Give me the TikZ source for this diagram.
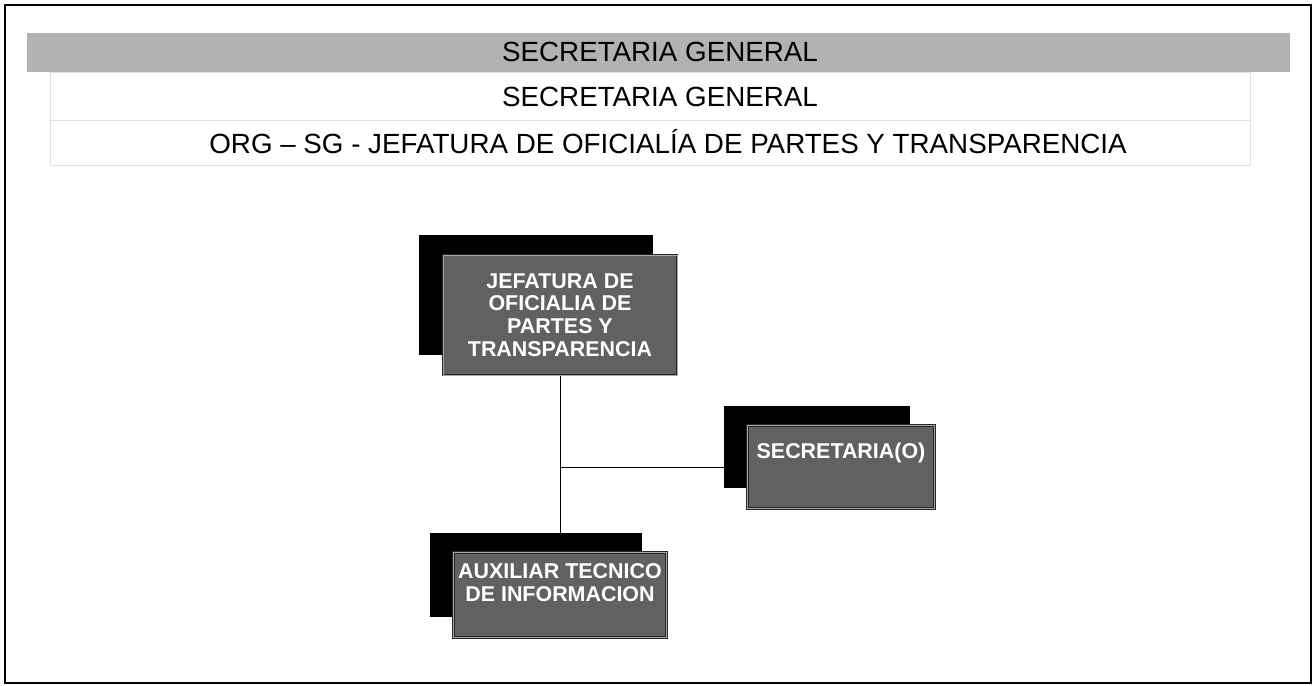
\documentclass[tikz,border=0pt]{standalone}
\usepackage{fontspec}
\setmainfont{Liberation Sans}
\usetikzlibrary{shadows,backgrounds}

\tikzset{
	puesto/.style={draw=black!85, double=black!35, double distance=0.5pt, fill=black!62, text=white,
		font=\fontsize{12.2}{13}\selectfont\bfseries, align=center, inner sep=2pt,
		general shadow={fill=black, shadow xshift=-0.48cm, shadow yshift=0.4cm}},
	encabezado/.style={font=\fontsize{15.8}{18}\selectfont}
}

\begin{document}
\begin{tikzpicture}[x=0.02cm, y=-0.02cm]
			%%%%% START %%%%%
			\useasboundingbox (0,0) rectangle (1316,686);
			\draw[line width=0.9pt] (5,5) rectangle (1311,683);
			
			\fill[black!30] (27,33) rectangle (1290,72);
			\draw[black!12] (50,72) rectangle (1250,165);
			\draw[black!12] (50,120) -- (1250,120);
			
			\node[encabezado] (area) at (660,52) {SECRETARIA GENERAL};
			\node[encabezado] (depto) at (660,97) {SECRETARIA GENERAL};
			\node[encabezado] (org) at (668,142) {ORG – SG - JEFATURA DE OFICIALÍA DE PARTES Y TRANSPARENCIA};
			
			\node[puesto, minimum width=4.68cm, minimum height=2.4cm] (jefe) at (560,315) {JEFATURA DE\\OFICIALIA DE\\PARTES Y\\TRANSPARENCIA};
			\node[puesto, minimum width=3.74cm, minimum height=1.66cm, text height=9pt, text depth=19pt] (secre) at (841,467) {SECRETARIA(O)};
			\node[puesto, minimum width=4.26cm, minimum height=1.7cm, text depth=14pt] (aux) at (560,595) {AUXILIAR TECNICO\\DE INFORMACION};
			
			\coordinate (rama) at (jefe.south |- secre.west);
			\begin{pgfonlayer}{background}
				\draw (jefe.south) -- (aux.north);
				\draw (rama) -- (secre.west);
			\end{pgfonlayer}
			%%%%% END %%%%%
\end{tikzpicture}
\end{document}
